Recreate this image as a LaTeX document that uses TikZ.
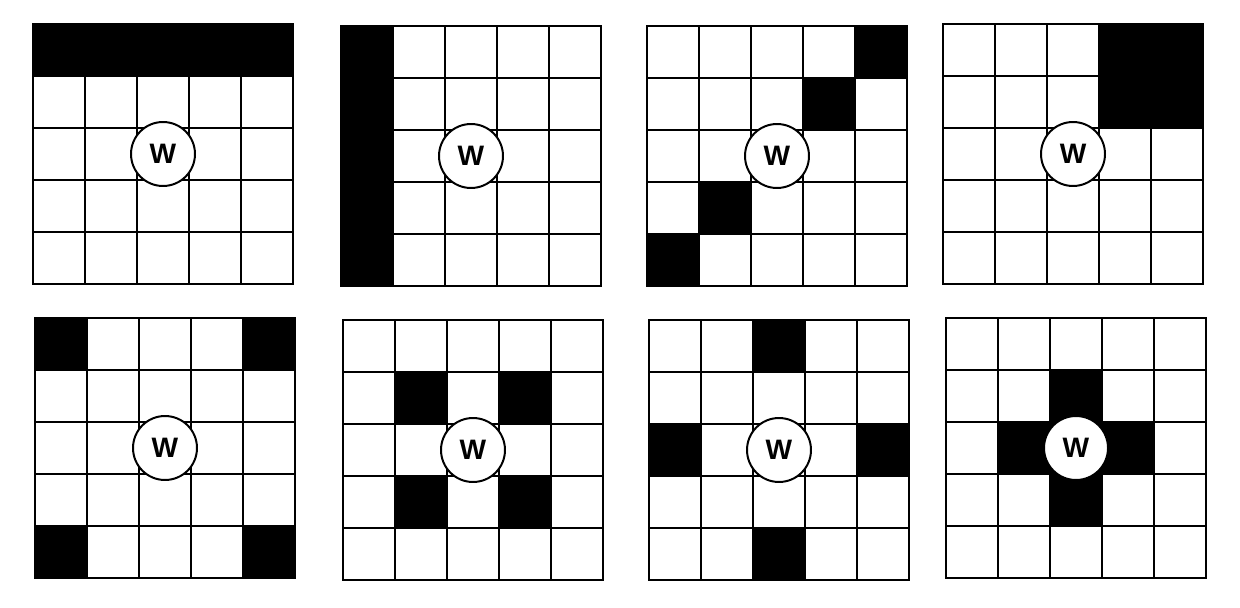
\documentclass[tikz,border=0pt]{standalone}
\usepackage{fontspec}
\setsansfont{Liberation Sans}
\usepackage{tikz}

\begin{document}
\begin{tikzpicture}[x=0.02cm,y=-0.02cm,line width=1.13pt,
  w node/.style={circle,fill=white,draw,inner sep=0pt,minimum size=1.28cm,
    font=\sffamily\bfseries\fontsize{16}{19}\selectfont}]

  \useasboundingbox[fill=white] (0,0) rectangle (1240,608);

  % one 5x5 grid per pattern: left/top/name/black cells (column/row)
  \foreach \gx/\gy/\n/\cells in {
      33/24/w1/{0/0,1/0,2/0,3/0,4/0},
      341/26/w2/{0/0,0/1,0/2,0/3,0/4},
      647/26/w3/{4/0,3/1,1/3,0/4},
      943/24/w4/{3/0,4/0,3/1,4/1},
      35/318/w5/{0/0,4/0,0/4,4/4},
      343/320/w6/{1/1,3/1,1/3,3/3},
      649/320/w7/{2/0,0/2,4/2,2/4},
      946/318/w8/{2/1,1/2,2/2,3/2,2/3}} {
    \begin{scope}[shift={(\gx,\gy)}]
      \foreach \c/\r in \cells
        \fill (\c*52,\r*52) rectangle ++(52,52);
      \foreach \i in {1,...,4} {
        \draw (\i*52,0) -- (\i*52,260);
        \draw (0,\i*52) -- (260,\i*52);
      }
      \draw (0,0) rectangle (260,260);
      \node[w node] (\n) at (130,130) {W};
    \end{scope}
  }
\end{tikzpicture}
\end{document}
